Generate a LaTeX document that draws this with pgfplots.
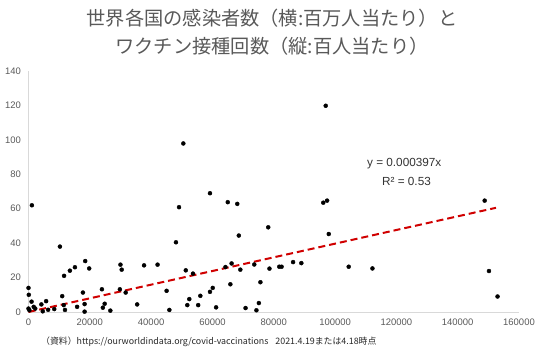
\documentclass[border=0pt]{standalone}
\usepackage{fontspec}
\setmainfont{Liberation Sans}
\newfontfamily\jp{Noto Sans CJK JP}
\usepackage{pgfplots}
\pgfplotsset{compat=1.18}
\definecolor{titlegray}{HTML}{595959}
\definecolor{axgray}{HTML}{D9D9D9}
\definecolor{trendred}{HTML}{D00000}
\begin{document}
\begin{tikzpicture}
\useasboundingbox (-28.5bp,-44bp) rectangle (515.5bp,312bp);
\begin{axis}[
  scale only axis, width=490.5bp, height=241bp,
  xmin=0, xmax=160000, ymin=0, ymax=140,
  axis lines*=left,
  axis line style={draw=axgray, line width=0.8bp, -},
  major tick length=0pt,
  xtick={0,20000,...,160000}, ytick={0,20,...,140},
  scaled x ticks=false,
  /pgf/number format/fixed,
  /pgf/number format/1000 sep={},
  /pgf/number format/assume math mode=true,
  tick label style={font=\fontsize{9.5}{11}\selectfont, text=titlegray},
  xticklabel style={yshift=-3bp},
  yticklabel style={xshift=-4bp},
  clip=false,
]
\addplot[only marks, mark=*, mark size=2bp, black] coordinates {
(1100,62) (0,14) (100,10) (1000,6) (0,2) (300,1) (1700,3) (2200,2)
(4200,4.4) (4650,0.4) (5750,6.3) (6400,1.3) (8400,1.7) (10250,38)
(11000,9.2) (11600,21) (11500,4) (11900,1.2) (13500,24) (15150,26)
(15850,3) (17750,11.3) (18500,29.6) (18300,4.6) (18300,0.2) (19800,25.3)
(23950,13.2) (24250,2.5) (24850,4.8) (26700,0.8) (30000,27.5) (30400,24.6)
(29800,13.2) (31700,11.3) (35450,4.4) (59200,69) (49100,60.9) (65000,63.8)
(68100,62.8) (48100,40.5) (68600,44.4) (37700,27.1) (42100,27.5) (51300,24.2)
(53650,22.3) (64250,26.1) (66250,28.2) (69100,24.6) (73650,27.6) (78600,25.2)
(45050,12.3) (45950,1.2) (52450,7.5) (51800,4) (56050,9.4) (55350,4)
(60100,14) (59200,11.7) (61200,2.7) (65850,16.1) (70800,2.3) (74350,1)
(75150,5.2) (75650,17.3) (78200,49.2) (96150,63.5) (97400,64.7) (97950,45.3)
(81800,26.3) (82550,26.3) (86300,29) (89000,28.4) (104450,26.3) (112200,25.3)
(148800,64.7) (150200,23.8) (153000,9) (96950,119.8) (50500,97.9)
};
\addplot[trendred, line width=2bp, dash pattern=on 7bp off 4bp] coordinates {(0,0) (152500,60.54)};
\node[anchor=west, inner sep=0pt, font=\fontsize{11.8}{13}\selectfont, text=black!80] at (axis cs:110400,86) {y = 0.000397x};
\node[anchor=west, inner sep=0pt, font=\fontsize{11.8}{13}\selectfont, text=black!80] at (axis cs:115300,76.1) {R² = 0.53};
\end{axis}
\node[font=\jp\fontsize{19.3}{22}\selectfont, text=titlegray] at (243.5bp,294bp) {世界各国の感染者数（横:百万人当たり）と};
\node[font=\jp\fontsize{19.3}{22}\selectfont, text=titlegray] at (243.5bp,266bp) {ワクチン接種回数（縦:百人当たり）};
\node[anchor=west, inner sep=0pt, font=\jp\fontsize{8.9}{10}\selectfont, text=black!85] at (12.5bp,-30bp) {（資料）https://ourworldindata.org/covid-vaccinations\hspace{7bp}2021.4.19または4.18時点};
\end{tikzpicture}
\end{document}
